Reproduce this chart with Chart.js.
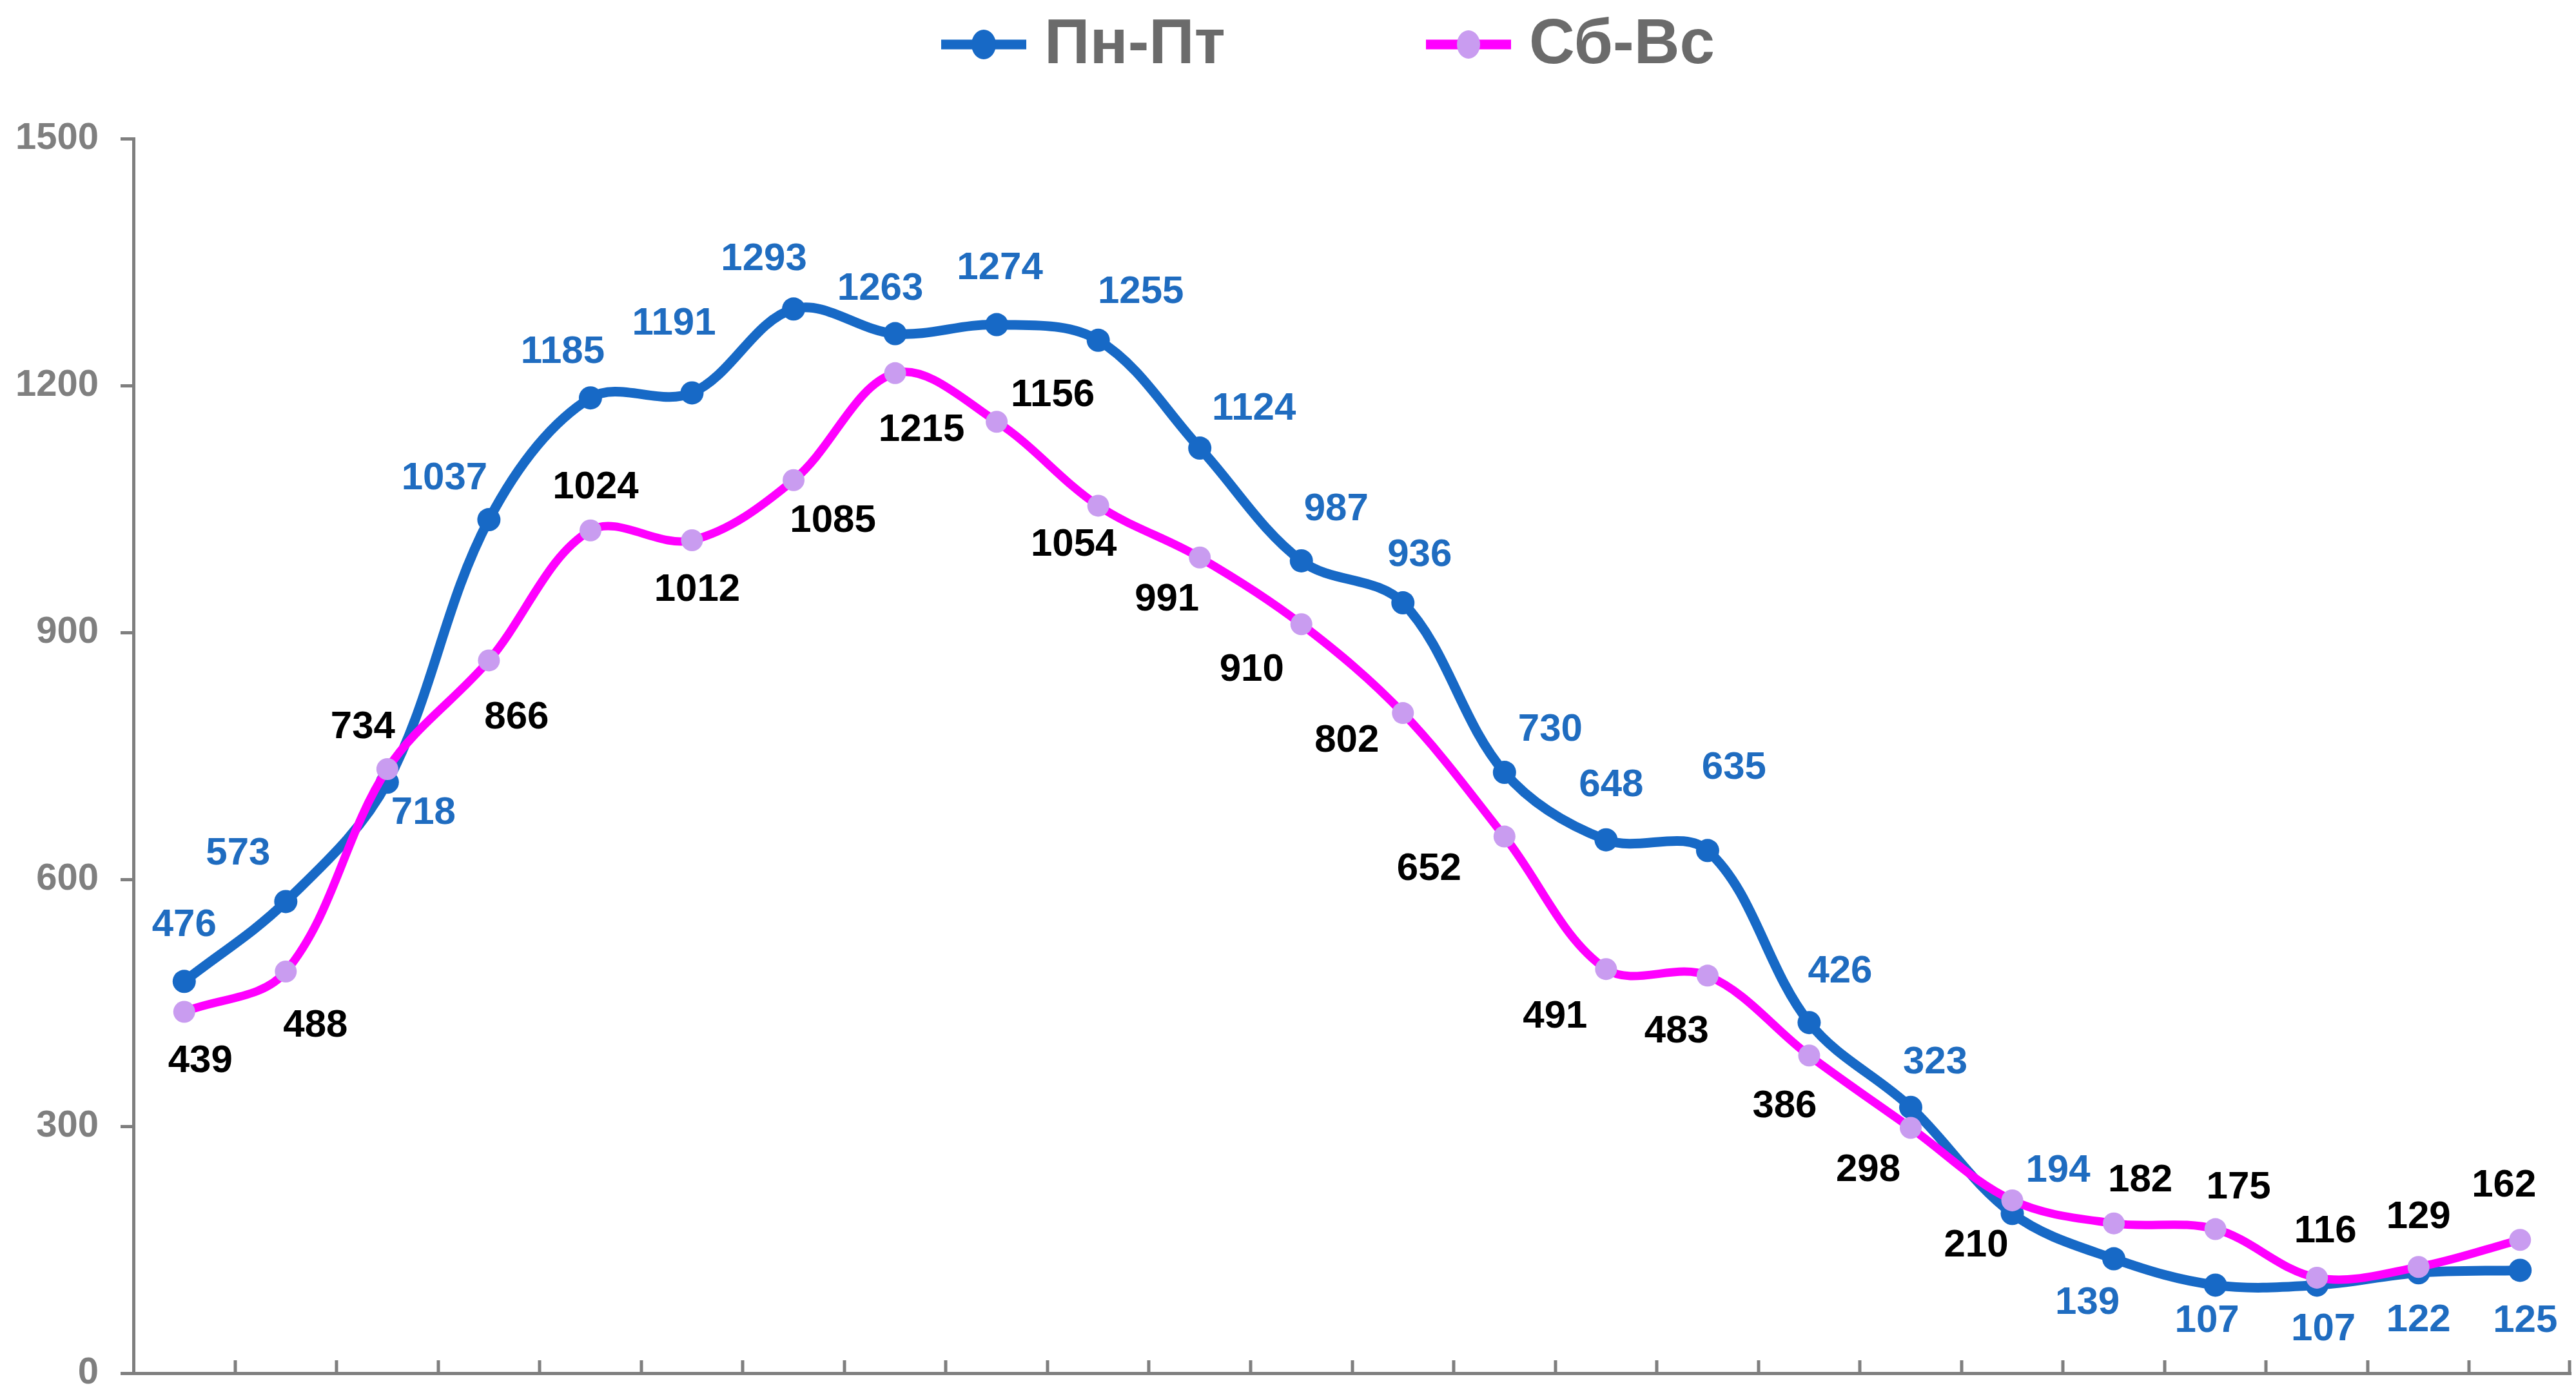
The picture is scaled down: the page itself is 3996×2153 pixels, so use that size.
<!DOCTYPE html>
<html lang="ru">
<head>
<meta charset="UTF-8">
<title>Пн-Пт / Сб-Вс</title>
<script src="https://cdn.jsdelivr.net/npm/chart.js"></script>
<style>
    html, body { margin: 0; padding: 0; background: #ffffff; }
    canvas { display: block; }
</style>
</head>
<body>
<canvas id="myLineChart" width="3996" height="2153"></canvas>
<script>
// data
var hours = ['0','1','2','3','4','5','6','7','8','9','10','11','12','13','14','15','16','17','18','19','20','21','22','23'];
var weekdays = [476, 573, 718, 1037, 1185, 1191, 1293, 1263, 1274, 1255, 1124, 987, 936, 730, 648, 635, 426, 323, 194, 139, 107, 107, 122, 125];
var weekend = [439, 488, 734, 866, 1024, 1012, 1085, 1215, 1156, 1054, 991, 910, 802, 652, 491, 483, 386, 298, 210, 182, 175, 116, 129, 162];
var seriesNames = ['Пн-Пт', 'Сб-Вс'];
var yTicks = [0, 300, 600, 900, 1200, 1500];

// label placement (pixel offsets from each point), styling only
var weekdayLabelOffsets = [
    [0, -87], [-74, -74], [56, 48], [-69, -64], [-43, -71], [-28, -107],
    [-46, -77], [-23, -69], [5, -87], [66, -74], [84, -61], [54, -79],
    [26, -74], [71, -66], [8, -84], [41, -128], [48, -79], [38, -69],
    [71, -66], [-41, 69], [-13, 56], [10, 69], [0, 74], [8, 79]
];
var weekendLabelOffsets = [
    [25, 77], [46, 84], [-38, -64], [43, 89], [8, -66], [8, 77],
    [61, 64], [41, 89], [87, -41], [-38, 61], [-51, 66], [-77, 71],
    [-87, 43], [-117, 51], [-79, 74], [-48, 87], [-38, 79], [-66, 66],
    [-56, 71], [41, -66], [36, -64], [13, -71], [0, -77], [-25, -84]
];

var blue = '#1769c6';
var blueText = '#1f6cc0';
var magenta = '#ff00ff';
var lilac = '#c99cf0';
var axisGray = '#7f7f7f';
var fontFamily = '"Liberation Sans", Arial, Helvetica, sans-serif';

var chartData = {
    labels: hours,
    datasets: [{
        label: seriesNames[0],
        data: weekdays,
        borderColor: blue,
        backgroundColor: blue,
        pointBackgroundColor: blue,
        pointBorderWidth: 0,
        pointRadius: 18,
        borderWidth: 15,
        tension: 0.35,
        order: 1
    }, {
        label: seriesNames[1],
        data: weekend,
        borderColor: magenta,
        backgroundColor: lilac,
        pointBackgroundColor: lilac,
        pointBorderWidth: 0,
        pointRadius: 17,
        borderWidth: 13,
        tension: 0.35,
        order: 0
    }]
};

var labelStyles = [
    { color: blueText, offsets: weekdayLabelOffsets },
    { color: '#000000', offsets: weekendLabelOffsets }
];

// value labels next to every point
var valueLabels = {
    id: 'valueLabels',
    afterDatasetsDraw: function(chart) {
        var ctx = chart.ctx;
        ctx.save();
        ctx.font = 'bold 60px ' + fontFamily;
        ctx.textAlign = 'center';
        ctx.textBaseline = 'middle';
        chart.data.datasets.forEach(function(ds, i) {
            var meta = chart.getDatasetMeta(i);
            ctx.fillStyle = labelStyles[i].color;
            meta.data.forEach(function(pt, j) {
                var off = labelStyles[i].offsets[j];
                ctx.fillText(ds.data[j], pt.x + off[0], pt.y + off[1]);
            });
        });
        ctx.restore();
    }
};

// short inward tick marks between categories on the x axis
var xTickMarks = {
    id: 'xTickMarks',
    afterDraw: function(chart) {
        var area = chart.chartArea;
        var n = chart.data.labels.length;
        var step = (area.right - area.left) / n;
        var ctx = chart.ctx;
        ctx.save();
        ctx.strokeStyle = axisGray;
        ctx.lineWidth = 5;
        for (var i = 1; i <= n; i++) {
            var x = Math.round(area.left + i * step) - (i === n ? 2 : 0);
            ctx.beginPath();
            ctx.moveTo(x, area.bottom);
            ctx.lineTo(x, area.bottom - 20);
            ctx.stroke();
        }
        ctx.restore();
    }
};

// legend on top: line with a marker, then the series name
var topLegend = {
    id: 'topLegend',
    afterDraw: function(chart) {
        var ctx = chart.ctx;
        var items = [
            { x: 1460, line: blue, dot: blue, r: 17 },
            { x: 2212, line: magenta, dot: lilac, r: 16 }
        ];
        var y = 69;
        ctx.save();
        ctx.font = 'bold 98px ' + fontFamily;
        ctx.textBaseline = 'middle';
        ctx.textAlign = 'left';
        items.forEach(function(it, i) {
            ctx.strokeStyle = it.line;
            ctx.lineWidth = 15;
            ctx.beginPath();
            ctx.moveTo(it.x, y);
            ctx.lineTo(it.x + 132, y);
            ctx.stroke();
            ctx.fillStyle = it.dot;
            ctx.beginPath();
            ctx.ellipse(it.x + 66, y, it.r + 2, it.r + 6, 0, 0, Math.PI * 2);
            ctx.fill();
            ctx.fillStyle = '#6b6b6b';
            ctx.fillText(chart.data.datasets[i].label, it.x + 160, y + 2);
        });
        ctx.restore();
    }
};

var chartOptions = {
    responsive: false,
    animation: false,
    layout: { autoPadding: false, padding: { top: 215, right: 8, bottom: 23, left: 0 } },
    plugins: {
        legend: { display: false },
        tooltip: { enabled: false }
    },
    scales: {
        x: {
            type: 'category',
            offset: true,
            grid: { display: true, drawOnChartArea: false, drawTicks: false },
            border: { display: true, color: axisGray, width: 5 },
            ticks: { display: false, padding: 0 },
            afterFit: function(scale) {
                scale.height = 0;
                scale.paddingLeft = 0;
                scale.paddingRight = 0;
            }
        },
        y: {
            min: 0,
            max: 1500,
            afterBuildTicks: function(scale) {
                scale.ticks = yTicks.map(function(v) { return { value: v }; });
            },
            grid: {
                drawOnChartArea: false,
                drawTicks: true,
                tickLength: 20,
                tickColor: axisGray,
                tickWidth: 5
            },
            border: { display: true, color: axisGray, width: 5 },
            ticks: {
                padding: 34,
                color: axisGray,
                font: { family: fontFamily, size: 58, weight: 'bold' },
                callback: function(value) { return String(value); }
            },
            afterFit: function(scale) {
                scale.width = 207;
                scale.paddingTop = 0;
                scale.paddingBottom = 0;
            }
        }
    }
};

var ctx = document.getElementById('myLineChart').getContext('2d');
var myLineChart = new Chart(ctx, {
    type: 'line',
    data: chartData,
    options: chartOptions,
    plugins: [valueLabels, xTickMarks, topLegend]
});
</script>
</body>
</html>
